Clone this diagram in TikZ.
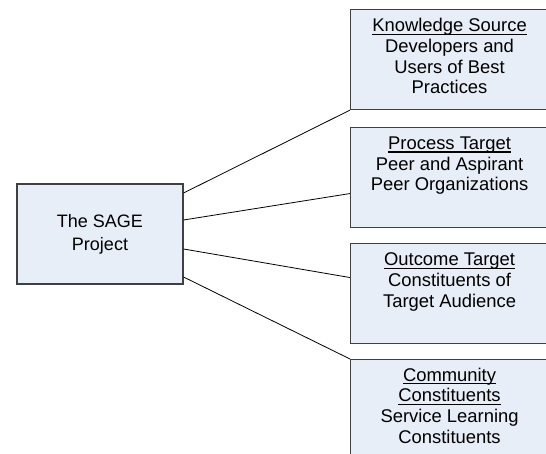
\documentclass[tikz,border=0pt]{standalone}
\usepackage{fontspec}
\setmainfont{Liberation Sans}

\definecolor{boxfill}{RGB}{232,238,247}
\definecolor{boxline}{RGB}{64,64,64}

% underlined heading line, rule at a fixed depth below the baseline
\newcommand{\hdr}[1]{\setbox0\hbox{#1}\rlap{\rule[-3.2pt]{\wd0}{1.1pt}}\box0}

\begin{document}
\begin{tikzpicture}[x = 1pt, y = -1pt,
    box/.style = {draw = boxline, line width = 1.1pt, fill = boxfill, inner sep = 0pt},
    rbox/.style = {box, anchor = north west, minimum width = 198pt, minimum height = 100pt},
    rtext/.style = {anchor = north, inner sep = 0pt, align = center, font = \fontsize{18.4}{20.8}\selectfont},
    link/.style = {draw = black, line width = 0.8pt}]
    \useasboundingbox (0, 0) rectangle (546, 454);
    \clip (0, 0) rectangle (546, 454);

    \node [box, minimum width = 166pt, minimum height = 100pt, align = center,
        font = \fontsize{18}{23}\selectfont] (sage) at (100, 234) {The SAGE\\Project};

    \node [rbox] (ks) at (350, 9) {};
    \node [rbox] (pt) at (350, 127) {};
    \node [rbox] (ot) at (350, 243) {};
    \node [rbox] (cc) at (350, 359) {};

    \node [rtext] (ks-t) at ([yshift=-9pt]ks.north) {\hdr{Knowledge Source}\\Developers and\\Users of Best\\Practices};
    \node [rtext] (pt-t) at ([yshift=-9.5pt]pt.north) {\hdr{Process Target}\\Peer and Aspirant\\Peer Organizations};
    \node [rtext] (ot-t) at ([yshift=-9.5pt]ot.north) {\hdr{Outcome Target}\\Constituents of\\Target Audience};
    \node [rtext] (cc-t) at ([yshift=-8.5pt]cc.north) {\hdr{Community}\\\hdr{Constituents}\\Service Learning\\Constituents};

    \draw [link] ([yshift=41pt]sage.east) -- (ks.south west);
    \draw [link] ([yshift=14pt]sage.east) -- ([yshift=-16pt]pt.west);
    \draw [link] ([yshift=-15pt]sage.east) -- ([yshift=16pt]ot.west);
    \draw [link] ([yshift=-43pt]sage.east) -- (cc.north west);
\end{tikzpicture}
\end{document}
